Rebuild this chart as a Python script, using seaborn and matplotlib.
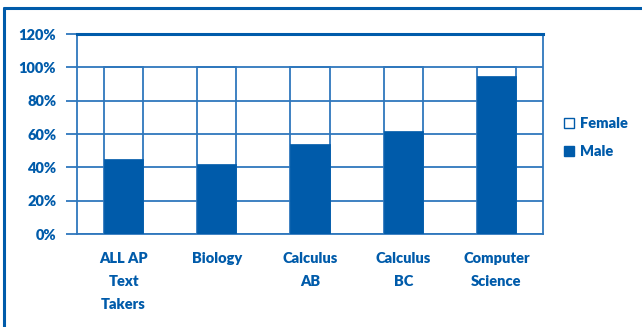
import matplotlib
matplotlib.use("Agg")
import matplotlib.pyplot as plt
import seaborn as sns
import pandas as pd
from matplotlib.patches import Patch
from matplotlib.lines import Line2D

categories = ["ALL AP\nText\nTakers", "Biology", "Calculus\nAB", "Calculus\nBC", "Computer\nScience"]
male = [45, 42, 54, 62, 95]
female = [55, 58, 46, 38, 5]
yticks = [0, 20, 40, 60, 80, 100, 120]
ytick_labels = ["0%", "20%", "40%", "60%", "80%", "100%", "120%"]

BLUE = "#005BAA"
GRID = "#2F77BD"

sns.set_theme(style="white")
plt.rcParams["font.family"] = ["Lato", "DejaVu Sans"]

df = pd.DataFrame({
    "cat": categories,
    "male": male,
    "total": [m + f for m, f in zip(male, female)],
})

fig = plt.figure(figsize=(6.42, 3.27), dpi=100)
ax = fig.add_axes([77 / 642, 1 - 234 / 327, 466 / 642, 200 / 327])

ax.set_axisbelow(True)
ax.yaxis.grid(True, color=GRID, linewidth=1.3)
ax.xaxis.grid(False)

sns.barplot(data=df, x="cat", y="total", ax=ax, color="white", fill=False,
            edgecolor=GRID, linewidth=1.3, width=0.42, zorder=2)
sns.barplot(data=df, x="cat", y="male", ax=ax, color=BLUE, saturation=1,
            edgecolor=BLUE, linewidth=0.5, width=0.42, zorder=3)

ax.set_ylim(0, 120)
ax.set_xlim(-0.5, 4.5)
ax.set_yticks(yticks)
ax.set_yticklabels(ytick_labels)
ax.set_xlabel("")
ax.set_ylabel("")

for s in ax.spines.values():
    s.set_visible(True)
    s.set_color(GRID)
    s.set_linewidth(1.3)
ax.spines["top"].set_color(BLUE)
ax.spines["top"].set_linewidth(2.2)

ax.tick_params(axis="y", which="major", left=True, length=8, width=1.3,
               color=GRID, pad=7, labelsize=10.5, labelcolor=BLUE)
ax.tick_params(axis="x", which="major", bottom=False, length=0, pad=13,
               labelsize=10.5, labelcolor=BLUE)
for lab in ax.get_yticklabels():
    lab.set_fontweight("heavy")
for lab in ax.get_xticklabels():
    lab.set_fontweight("heavy")
    lab.set_linespacing(1.9)
    lab.set_verticalalignment("top")

handles = [Patch(facecolor="white", edgecolor=BLUE, linewidth=1.0, label="Female"),
           Patch(facecolor=BLUE, edgecolor=BLUE, label="Male")]
leg = fig.legend(handles=handles, loc="upper left", bbox_to_anchor=(551 / 642, 1 - 104 / 327),
                 frameon=False, handlelength=0.7, handleheight=0.7, handletextpad=0.4,
                 labelspacing=1.05, prop={"size": 10.5, "weight": "heavy"})
for t in leg.get_texts():
    t.set_color(BLUE)

fig.add_artist(Line2D([4 / 642, 1.0], [1 - 8 / 327, 1 - 8 / 327], transform=fig.transFigure,
                      color=BLUE, linewidth=2.2))
fig.add_artist(Line2D([4 / 642, 4 / 642], [0, 1 - 8 / 327], transform=fig.transFigure,
                      color=BLUE, linewidth=2.2))

fig.savefig("out.png", dpi=100, facecolor="white")
